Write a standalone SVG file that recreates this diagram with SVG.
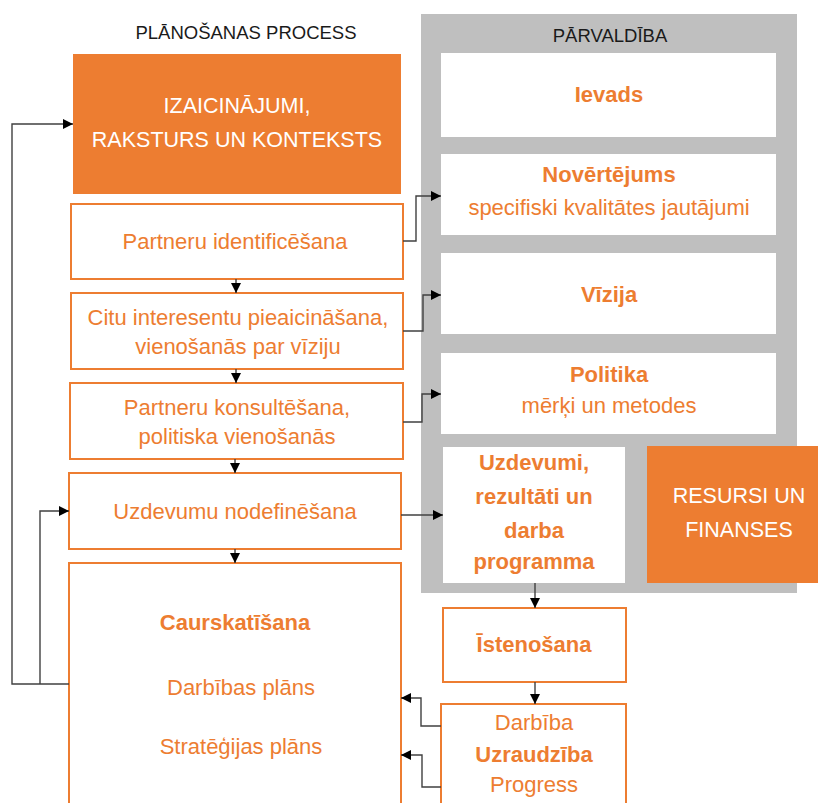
<svg xmlns="http://www.w3.org/2000/svg" width="818" height="803" viewBox="0 0 818 803">
<defs>
<style>
.t{font-family:"Liberation Sans",Arial,sans-serif;text-anchor:middle}
.h{font-size:18.5px;fill:#1a1a1a}
.w{font-size:21.5px;fill:#ffffff}
.o{font-size:22px;fill:#ED7D31}
.ob{font-size:22px;fill:#ED7D31;font-weight:bold}
.box{fill:#ffffff;stroke:#ED7D31;stroke-width:2}
.obox{fill:#ED7D31}
.gbox{fill:#ffffff}
.c{fill:none;stroke:#404040;stroke-width:1.4}
</style>
<marker id="ah" viewBox="0 0 10 10" refX="10" refY="5" markerWidth="10" markerHeight="10" markerUnits="userSpaceOnUse" orient="auto">
<path d="M0,0 L10,5 L0,10 z" fill="#000"/>
</marker>
</defs>
<rect width="818" height="803" fill="#ffffff"/>

<text class="t h" x="246" y="39">PLĀNOŠANAS PROCESS</text>

<g id="parvaldiba">
<rect x="421" y="14" width="376" height="579" fill="#BFBFBF"/>
<text class="t h" x="610" y="42">PĀRVALDĪBA</text>
</g>

<g id="izaicinajumi">
<rect class="obox" x="73" y="54" width="328" height="140"/>
<text class="t w" x="237" y="113">IZAICINĀJUMI,</text>
<text class="t w" x="237" y="147">RAKSTURS UN KONTEKSTS</text>
</g>

<g id="partneru-identificesana">
<rect class="box" x="71" y="204" width="332" height="75"/>
<text class="t o" x="235" y="249">Partneru identificēšana</text>
</g>

<g id="citu-interesentu">
<rect class="box" x="71" y="293" width="332" height="76"/>
<text class="t o" x="238" y="325">Citu interesentu pieaicināšana,</text>
<text class="t o" x="238" y="354">vienošanās par vīziju</text>
</g>

<g id="partneru-konsultesana">
<rect class="box" x="70" y="383" width="333" height="76"/>
<text class="t o" x="237" y="415">Partneru konsultēšana,</text>
<text class="t o" x="237" y="444">politiska vienošanās</text>
</g>

<g id="uzdevumu-nodefinesana">
<rect class="box" x="69" y="473" width="332" height="76"/>
<text class="t o" x="235" y="519">Uzdevumu nodefinēšana</text>
</g>

<g id="caurskatisana">
<rect class="box" x="69" y="563" width="332" height="260"/>
<text class="t ob" x="235" y="630">Caurskatīšana</text>
<text class="t o" x="241" y="695">Darbības plāns</text>
<text class="t o" x="241" y="754">Stratēģijas plāns</text>
</g>

<g id="ievads">
<rect class="gbox" x="441" y="53" width="335" height="84"/>
<text class="t ob" x="609" y="102">Ievads</text>
</g>

<g id="novertejums">
<rect class="gbox" x="441" y="154" width="335" height="81"/>
<text class="t ob" x="609" y="182">Novērtējums</text>
<text class="t o" x="609" y="215">specifiski kvalitātes jautājumi</text>
</g>

<g id="vizija">
<rect class="gbox" x="441" y="253" width="335" height="81"/>
<text class="t ob" x="609" y="302">Vīzija</text>
</g>

<g id="politika">
<rect class="gbox" x="441" y="353" width="335" height="81"/>
<text class="t ob" x="609" y="382">Politika</text>
<text class="t o" x="609" y="413">mērķi un metodes</text>
</g>

<g id="uzdevumi">
<rect class="gbox" x="443" y="447" width="182" height="136"/>
<text class="t ob" x="534" y="470">Uzdevumi,</text>
<text class="t ob" x="534" y="504">rezultāti un</text>
<text class="t ob" x="534" y="538">darba</text>
<text class="t ob" x="534" y="569">programma</text>
</g>

<g id="resursi">
<rect class="obox" x="647" y="446" width="171" height="137"/>
<text class="t w" x="739" y="503">RESURSI UN</text>
<text class="t w" x="739" y="537">FINANSES</text>
</g>

<g id="istenosana">
<rect class="box" x="443" y="608" width="183" height="74"/>
<text class="t ob" x="534" y="652">Īstenošana</text>
</g>

<g id="uzraudziba">
<rect class="box" x="441" y="704" width="185" height="120"/>
<text class="t o" x="534" y="730">Darbība</text>
<text class="t ob" x="534" y="762">Uzraudzība</text>
<text class="t o" x="534" y="792">Progress</text>
</g>

<g id="connectors">
<path class="c" d="M236,279 V293" marker-end="url(#ah)"/>
<path class="c" d="M236,369 V383" marker-end="url(#ah)"/>
<path class="c" d="M235,459 V473" marker-end="url(#ah)"/>
<path class="c" d="M235,549 V563" marker-end="url(#ah)"/>
<path class="c" d="M69,684 H12 V124 H73" marker-end="url(#ah)"/>
<path class="c" d="M40,684 V511 H69" marker-end="url(#ah)"/>
<path class="c" d="M403,241 H416 V196 H441" marker-end="url(#ah)"/>
<path class="c" d="M403,331 H423 V295 H441" marker-end="url(#ah)"/>
<path class="c" d="M403,422 H422 V394 H441" marker-end="url(#ah)"/>
<path class="c" d="M401,515 H443" marker-end="url(#ah)"/>
<path class="c" d="M535,583 V608" marker-end="url(#ah)"/>
<path class="c" d="M535,682 V704" marker-end="url(#ah)"/>
<path class="c" d="M441,726 H421 V698 H401" marker-end="url(#ah)"/>
<path class="c" d="M441,787 H422 V755 H401" marker-end="url(#ah)"/>
</g>
</svg>
